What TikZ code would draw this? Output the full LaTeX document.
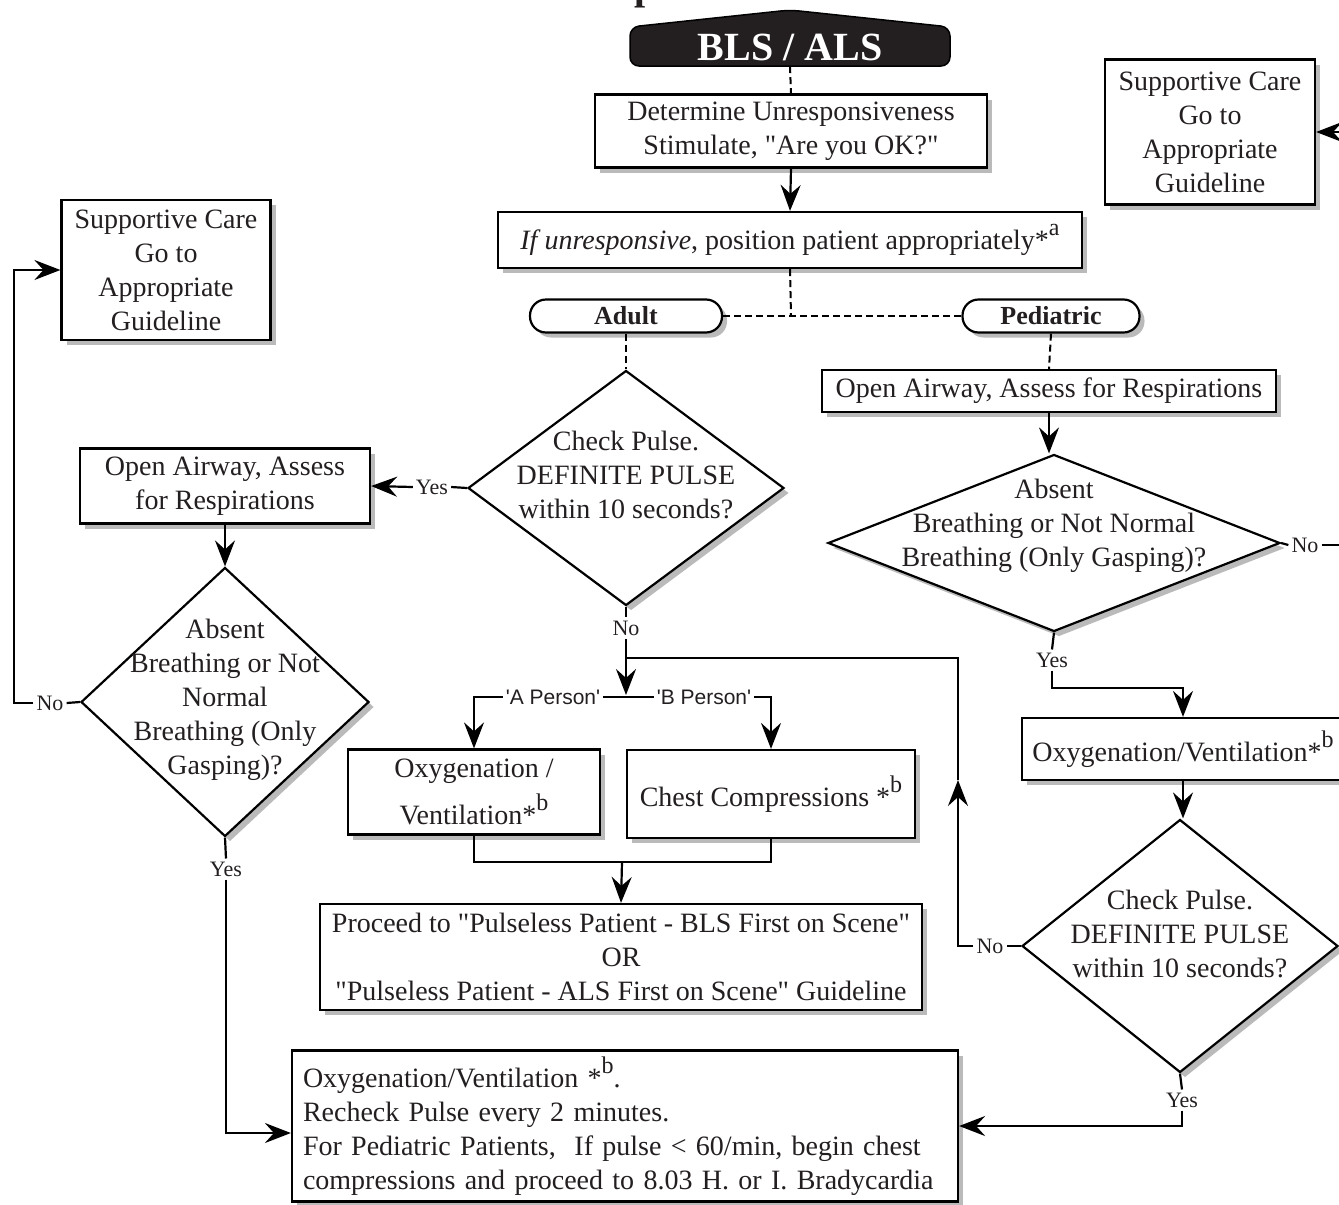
\documentclass[tikz,border=0pt]{standalone}
\usepackage{fontspec}
\newfontfamily\timesf{Liberation Serif}
\newfontfamily\arialf{Liberation Sans}
\usetikzlibrary{arrows.meta,shadows,shapes.geometric}
\definecolor{ink}{HTML}{231F20}
\newcommand\supsc[1]{\raisebox{0.5em}{\fontsize{24}{24}\selectfont #1}}
\begin{document}
\begin{tikzpicture}[x=1pt,y=-1pt,
  every node/.style={font=\timesf\fontsize{28}{34}\selectfont, text=ink},
  shad/.style={drop shadow={shadow xshift=5pt,shadow yshift=-5pt,fill=black!45,opacity=0.6}},
  box/.style={draw=black, line width=2.2pt, fill=white, shad, align=center, inner sep=0pt},
  pill/.style={box, rounded corners=16pt, font=\timesf\fontsize{26}{30}\selectfont\bfseries},
  dia/.style={draw=black, diamond, line width=2.2pt, fill=white, shad, inner sep=0pt},
  lbl/.style={font=\timesf\fontsize{22}{26}\selectfont, inner sep=3pt},
  plbl/.style={font=\arialf\fontsize{21}{24}\selectfont, inner sep=3pt},
  conn/.style={line width=2.2pt},
  arr/.style={conn, -{Stealth[length=26pt,width=20pt,inset=9pt]}},
  dsh/.style={line width=2pt, dash pattern=on 7pt off 4pt},
]
\useasboundingbox (0,0) rectangle (1339,1205);

% title fragment and header
\node[font=\timesf\fontsize{40}{40}\selectfont\bfseries, anchor=base west, inner sep=0pt] (ttl) at (634,-1) {p};
\filldraw[fill=ink, draw=black, line width=1.5pt, rounded corners=9pt] (790,66) -- (630,66) -- (630,27) -- (790,10) -- (950,27) -- (950,66) -- cycle;
\node[font=\timesf\fontsize{40}{40}\selectfont\bfseries, text=white, minimum height=38pt, minimum width=320pt, inner sep=0pt] (bls) at (790,47) {BLS / ALS};

% boxes
\node[box, minimum width=392pt, minimum height=73pt] (det) at (791,131) {Determine Unresponsiveness\\Stimulate, "Are you OK?"};
\node[box, minimum width=584pt, minimum height=56pt] (pos) at (790,240) {\textit{If unresponsive}, position patient appropriately*\supsc{a}};
\node[pill, minimum width=192pt, minimum height=33pt] (adult) at (626,316) {Adult};
\node[pill, minimum width=177pt, minimum height=33pt] (ped) at (1051,316) {Pediatric};
\node[box, minimum width=209pt, minimum height=140pt] (lsupp) at (166,270) {Supportive Care\\Go to\\Appropriate\\Guideline};
\node[box, minimum width=210pt, minimum height=145pt] (rsupp) at (1210,132) {Supportive Care\\Go to\\Appropriate\\Guideline};

\node[dia, minimum width=316pt, minimum height=235pt, label={[align=center,yshift=13pt]center:Check Pulse.\\DEFINITE PULSE\\within 10 seconds?}] (ckA) at (626,488) {};
\node[box, minimum width=290pt, minimum height=75pt] (oaL) at (225,486) {Open Airway, Assess\\for Respirations};
\node[dia, minimum width=288pt, minimum height=269pt, label={[align=center,yshift=2pt]center:Absent\\Breathing or Not\\Normal\\Breathing (Only\\Gasping)?}] (abL) at (225,702) {};
\node[box, minimum width=252pt, minimum height=85pt] (oxA) at (474,792) {Oxygenation /\\[10pt]Ventilation*\supsc{b}};
\node[box, minimum width=288pt, minimum height=88pt] (cc) at (771,794) {Chest Compressions *\supsc{b}};
\node[box, minimum width=602pt, minimum height=106pt] (proc) at (621,957) {Proceed to "Pulseless Patient - BLS First on Scene"\\OR\\"Pulseless Patient - ALS First on Scene" Guideline};
\node[box, text width=644pt, inner xsep=11pt, minimum height=151pt, align=left] (bot) at (625,1126) {Oxygenation/Ventilation *\supsc{b}.\\Recheck Pulse every 2 minutes.\\For Pediatric Patients,\ \ If pulse < 60/min, begin chest\\compressions and proceed to 8.03 H. or I. Bradycardia};

\node[box, minimum width=454pt, minimum height=42pt] (oaR) at (1049,391) {Open Airway, Assess for Respirations};
\node[dia, minimum width=452pt, minimum height=177pt, label={[align=center,yshift=17pt]center:Absent\\Breathing or Not Normal\\Breathing (Only Gasping)?}] (abR) at (1054,543) {};
\node[box, minimum width=322pt, minimum height=62pt] (oxR) at (1183,749) {Oxygenation/Ventilation*\supsc{b}};
\node[dia, minimum width=316pt, minimum height=253pt, label={[align=center,yshift=12pt]center:Check Pulse.\\DEFINITE PULSE\\within 10 seconds?}] (ckR) at (1180,946) {};

% labels
\node[lbl] (yA) at (432,487) {Yes};
\node[lbl] (nA) at (626,628) {No};
\node[lbl] (nL) at (50,703) {No};
\node[lbl] (yL) at (226,869) {Yes};
\node[plbl] (pa) at (553,697) {'A Person'};
\node[plbl] (pb) at (704,697) {'B Person'};
\node[lbl] (nR2) at (1305,545) {No};
\node[lbl] (yR) at (1052,660) {Yes};
\node[lbl] (nR) at (990,946) {No};
\node[lbl] (yR2) at (1182,1100) {Yes};

\coordinate (j1) at (791,316);
\coordinate (lc) at (14,703);
\coordinate (jAB) at (626,695);
\coordinate (mrg) at (622,862);
\coordinate (upA) at (958,780);
\coordinate (ret) at (958,658);
\coordinate (retE) at (626,658);
\coordinate (offR) at (1375,545);
\coordinate (yRc) at (1052,688);

% connectors
\draw[dsh] (bls.south) -- (det.north);
\draw[arr] (det.south) -- (pos.north);
\draw[dsh] (pos.south) -- (j1);
\draw[dsh] (adult.east) -- (ped.west);
\draw[dsh] (adult.south) -- (ckA.north);
\draw[conn] (ckA.west) -- (yA.east);
\draw[arr] (yA.west) -- (oaL.east);
\draw[arr] (oaL.south) -- (abL.north);
\draw[conn] (abL.west) -- (nL.east);
\draw[arr] (nL.west) -- (lc) |- (lsupp.west);
\draw[conn] (abL.south) -- (yL.north);
\draw[arr] (yL.south) |- ([yshift=-7pt]bot.west);
\draw[conn] (ckA.south) -- (nA.north);
\draw[arr] (nA.south) -- (jAB);
\draw[conn] (pa.east) -- (pb.west);
\draw[arr] (pa.west) -| (oxA.north);
\draw[arr] (pb.east) -| (cc.north);
\draw[conn] (oxA.south) |- (mrg) -| (cc.south);
\draw[arr] (mrg) -- (proc.north);
\draw[conn] (ckR.west) -- (nR.east);
\draw[arr] (nR.west) -| (upA);
\draw[conn] (upA) -- (ret) -- (retE);
\draw[dsh] (ped.south) -- (oaR.north);
\draw[arr] (oaR.south) -- (oaR.south |- abR.north);
\draw[conn] (abR.east) -- (nR2.west);
\draw[arr] (nR2.east) -- (offR) |- (rsupp.east);
\draw[conn] (abR.south) -- (yR.north);
\draw[arr] (yR.south) -- (yRc) -| (oxR.north);
\draw[arr] (oxR.south) -- (oxR.south |- ckR.north);
\draw[conn] (ckR.south) -- (yR2.north);
\draw[arr] (yR2.south) |- (bot.east);
\end{tikzpicture}
\end{document}
